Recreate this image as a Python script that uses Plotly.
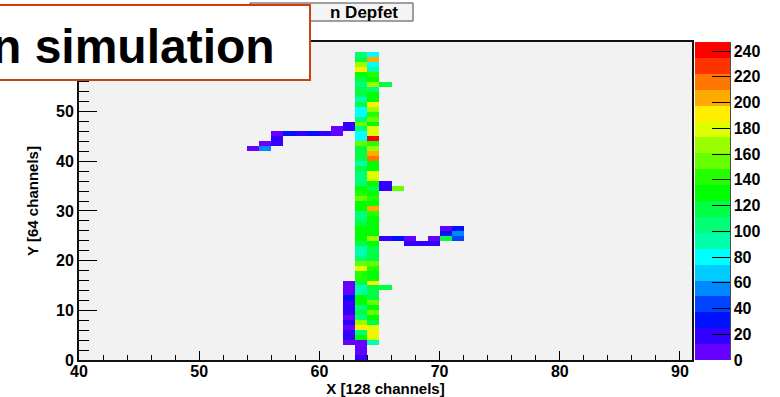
import numpy as np
import plotly.graph_objects as go

# ---------------- data (ADC counts per pixel) ----------------
X_EDGES = list(range(40, 92))          # 51 bins, 40..91
Y_EDGES = list(range(0, 65))           # 64 bins, 0..64

# column x=63, bins y=0..61
col63_z = [18, 6, 6, 8, 130, 105, 191, 167, 105, 117, 108, 128, 128, 93, 95, 120,
           142, 142, 179, 154, 103, 95, 90, 115, 130, 132, 133, 117, 106, 106, 130, 130,
           160, 142, 133, 103, 103, 103, 117, 92, 117, 117, 117, 154, 80, 80, 106, 154,
           106, 80, 80, 117, 92, 117, 117, 103, 117, 130, 191, 167, 120, 106]
# column x=64, bins y=3..61
col64_z = [92, 180, 191, 180, 120, 127, 154, 130, 152, 115, 118, 120, 192, 133, 133, 142,
           150, 115, 115, 115, 126, 166, 133, 133, 133, 133, 142, 200, 127, 142, 133, 115,
           130, 180, 180, 132, 133, 216, 204, 162, 142, 242, 175, 178, 133, 154, 142, 167,
           191, 133, 130, 106, 167, 130, 142, 95, 80, 204, 82]
# column x=62, bins y=3..15
col62_z = [6, 18, 20, 8, 20, 10, 16, 19, 20, 26, 10, 10, 6]

# isolated / branch pixels
branch_x = [62, 62, 61, 61, 60, 59, 58, 57, 56, 56, 56, 55, 55, 54,
            65, 65, 66,
            65, 66, 67, 67, 68, 69, 69, 70, 71, 70, 71, 70, 71,
            65, 65]
branch_y = [47, 46, 46, 45, 45, 45, 45, 45, 45, 44, 43, 43, 42, 42,
            35, 34, 34,
            24, 24, 24, 23, 23, 23, 24, 24, 24, 25, 25, 26, 26,
            14, 55]
branch_z = [18, 20, 7, 8, 14, 28, 14, 28, 8, 18, 18, 8, 56, 5,
            20, 22, 155,
            16, 30, 7, 18, 14, 20, 6, 120, 40, 30, 54, 8, 30,
            118, 116]

Z_MAX = 247
CB_TICKS = list(range(0, 241, 20))
X_TICKS = list(range(40, 91, 10))

PALETTE = ["#6600ff", "#3300ff", "#0011ff", "#0044ff", "#0088ff", "#00ccff", "#00ffff",
           "#00ffaa", "#00ff77", "#00ff44", "#00ff00", "#22ff00", "#66ff00", "#99ff00",
           "#ddff00", "#ffee00", "#ffaa00", "#ff7700", "#ff3300", "#ff0000"]

# ---------------- build matrix ----------------
nx, ny = len(X_EDGES) - 1, len(Y_EDGES) - 1
z = np.full((ny, nx), np.nan)
x0 = X_EDGES[0]
for j, v in enumerate(col63_z):
    z[j, 63 - x0] = v
for j, v in enumerate(col64_z):
    z[j + 3, 64 - x0] = v
for j, v in enumerate(col62_z):
    z[j + 3, 62 - x0] = v
for bx, by, bz in zip(branch_x, branch_y, branch_z):
    z[by, bx - x0] = bz

xc = np.array(X_EDGES[:-1]) + 0.5
yc = np.array(Y_EDGES[:-1]) + 0.5

n = len(PALETTE)
cscale = []
for i, c in enumerate(PALETTE):
    cscale.append([i / n, c])
    cscale.append([(i + 1) / n, c])

# ---------------- geometry helpers ----------------
W, H = 780, 397
ML, MR, MT, MB = 79, 88, 42, 37
PW, PH = W - ML - MR, H - MT - MB


def px(x):
    return (x - ML) / PW


def py(y):
    return (H - MB - y) / PH


FONT = "Liberation Sans, Arial, Helvetica, sans-serif"

fig = go.Figure()
fig.add_trace(go.Heatmap(
    x=xc, y=yc, z=z, zmin=0, zmax=Z_MAX, colorscale=cscale, zsmooth=False,
    hoverinfo="skip",
    colorbar=dict(
        x=px(695), xanchor="left", xpad=0, y=0.5, yanchor="middle", ypad=0,
        len=1, lenmode="fraction", thickness=35, thicknessmode="pixels",
        outlinewidth=0, tickvals=CB_TICKS, ticks="inside", ticklen=18,
        ticklabelposition="outside",
        tickcolor="black", tickwidth=1,
        tickfont=dict(family=FONT, size=16, color="black", weight="bold"),
    ),
))

fig.update_layout(
    width=W, height=H, margin=dict(l=ML, r=MR, t=MT, b=MB, autoexpand=False),
    paper_bgcolor="white", plot_bgcolor="#f2f2f2",
    font=dict(family=FONT, color="black"),
    xaxis=dict(
        range=[40, 91], tickvals=X_TICKS, ticks="inside", ticklen=9, tickwidth=1,
        tickcolor="black", showline=True, linewidth=2, linecolor="#111", mirror=True,
        showgrid=False, zeroline=False, automargin=False, ticklabelstandoff=-4,
        minor=dict(tick0=40, dtick=2, ticks="inside", ticklen=5, tickcolor="black",
                   showgrid=False),
        tickfont=dict(family=FONT, size=16, weight="bold"),
        title=dict(text="X [128 channels]", standoff=0,
                   font=dict(family=FONT, size=15, weight="bold")),
    ),
    yaxis=dict(
        range=[0, 64], tick0=0, dtick=10, ticks="inside", ticklen=18, tickwidth=1,
        tickcolor="black", showline=True, linewidth=2, linecolor="#111", mirror=True,
        showgrid=False, zeroline=False, automargin=False,
        minor=dict(tick0=0, dtick=2, ticks="inside", ticklen=10, tickcolor="black",
                   showgrid=False),
        tickfont=dict(family=FONT, size=16, weight="bold"),
        title=dict(text="Y [64 channels]", standoff=14,
                   font=dict(family=FONT, size=15, weight="bold")),
    ),
    shapes=[
        dict(type="line", xref="paper", yref="paper", x0=px(730), x1=px(730),
             y0=0, y1=1, line=dict(color="#111", width=1.5), layer="above"),
        dict(type="rect", xref="paper", yref="paper", x0=px(250), x1=px(413),
             y0=py(21), y1=py(3), fillcolor="#f4f4f4",
             line=dict(color="#444", width=1), layer="above"),
    ],
    annotations=[
        dict(text="n Depfet", xref="paper", yref="paper", x=px(400), y=py(12),
             xanchor="right", yanchor="middle", showarrow=False,
             font=dict(family=FONT, size=17, weight="bold", color="black")),
        dict(text="\u00a0", xref="paper", yref="paper", x=px(311), y=py(4),
             xanchor="right", yanchor="top", showarrow=False,
             width=340, height=73, borderpad=0, bgcolor="white",
             bordercolor="#cc4014", borderwidth=2),
        dict(text="n simulation", xref="paper", yref="paper", x=px(277), y=py(46),
             xanchor="right", yanchor="middle", showarrow=False,
             font=dict(family=FONT, size=48, weight="bold", color="black")),
    ],
)

# the page's default 8px body margin would shift the figure; remove it
fig.write_html("out.html", config={"displayModeBar": False},
               post_script="document.body.style.margin='0px';")
